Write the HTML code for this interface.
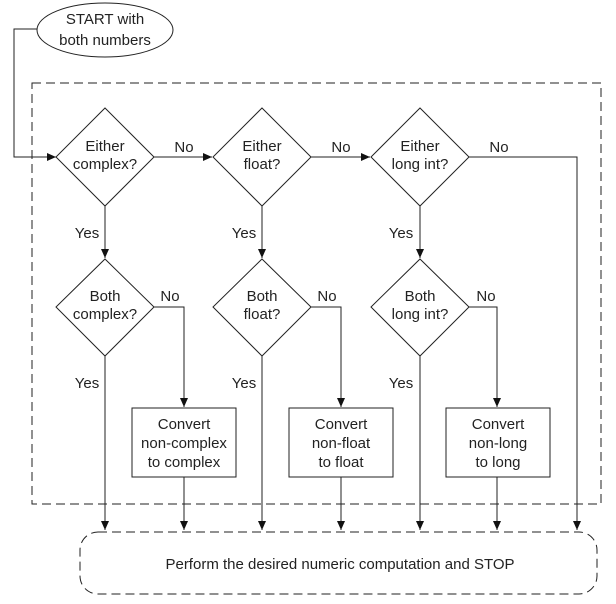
<!DOCTYPE html>
<html><head><style>body{margin:0;background:#fff}svg{display:block}text{font-family:"Liberation Sans",sans-serif;font-size:15px;fill:#222}</style></head><body>
<svg width="616" height="604" viewBox="0 0 616 604" xmlns="http://www.w3.org/2000/svg">
<defs><marker id="a" markerWidth="10" markerHeight="10" refX="9" refY="5" orient="auto" markerUnits="userSpaceOnUse"><path d="M0,1 L9,5 L0,9 Z" fill="#111"/></marker></defs>
<g fill="none" stroke="#222" stroke-width="1">
<ellipse cx="105" cy="30" rx="68" ry="27"/>
<rect x="32" y="83" width="569" height="421" stroke-dasharray="9,5"/>
<rect x="80" y="532" width="517" height="62" rx="18" stroke-dasharray="9,5"/>
<polyline points="37,29 14,29 14,157 56,157" marker-end="url(#a)"/>
</g>
<g fill="#fff" stroke="#222">
<polygon points="105,108 154,157 105,206 56,157"/>
<polygon points="262,108 311,157 262,206 213,157"/>
<polygon points="420,108 469,157 420,206 371,157"/>
<polygon points="105,259 154,307 105,356 56,307"/>
<polygon points="262,259 311,307 262,356 213,307"/>
<polygon points="420,259 469,307 420,356 371,307"/>
<rect x="132" y="408" width="104" height="69"/>
<rect x="289" y="408" width="104" height="69"/>
<rect x="446" y="408" width="104" height="69"/>
</g>
<g fill="none" stroke="#222" marker-end="url(#a)">
<line x1="154" y1="157" x2="212" y2="157"/>
<line x1="311" y1="157" x2="370" y2="157"/>
<polyline points="469,157 577,157 577,530"/>
<line x1="105" y1="206" x2="105" y2="258"/>
<line x1="262" y1="206" x2="262" y2="258"/>
<line x1="420" y1="206" x2="420" y2="258"/>
<line x1="105" y1="356" x2="105" y2="530"/>
<line x1="262" y1="356" x2="262" y2="530"/>
<line x1="420" y1="356" x2="420" y2="530"/>
<polyline points="154,307 184,307 184,407"/>
<polyline points="311,307 341,307 341,407"/>
<polyline points="469,307 497,307 497,407"/>
<line x1="184" y1="477" x2="184" y2="530"/>
<line x1="341" y1="477" x2="341" y2="530"/>
<line x1="497" y1="477" x2="497" y2="530"/>
</g>
<g text-anchor="middle">
<text x="105" y="24">START with</text><text x="105" y="45">both numbers</text>
<text x="105" y="151">Either</text><text x="105" y="169">complex?</text>
<text x="262" y="151">Either</text><text x="262" y="169">float?</text>
<text x="420" y="151">Either</text><text x="420" y="169">long int?</text>
<text x="105" y="301">Both</text><text x="105" y="319">complex?</text>
<text x="262" y="301">Both</text><text x="262" y="319">float?</text>
<text x="420" y="301">Both</text><text x="420" y="319">long int?</text>
<text x="184" y="429">Convert</text><text x="184" y="448">non-complex</text><text x="184" y="467">to complex</text>
<text x="341" y="429">Convert</text><text x="341" y="448">non-float</text><text x="341" y="467">to float</text>
<text x="498" y="429">Convert</text><text x="498" y="448">non-long</text><text x="498" y="467">to long</text>
<text x="340" y="569">Perform the desired numeric computation and STOP</text>
<text x="184" y="152">No</text><text x="341" y="152">No</text><text x="499" y="152">No</text>
<text x="170" y="301">No</text><text x="327" y="301">No</text><text x="486" y="301">No</text>
<text x="87" y="238">Yes</text><text x="244" y="238">Yes</text><text x="401" y="238">Yes</text>
<text x="87" y="388">Yes</text><text x="244" y="388">Yes</text><text x="401" y="388">Yes</text>
</g>
</svg>
</body></html>
